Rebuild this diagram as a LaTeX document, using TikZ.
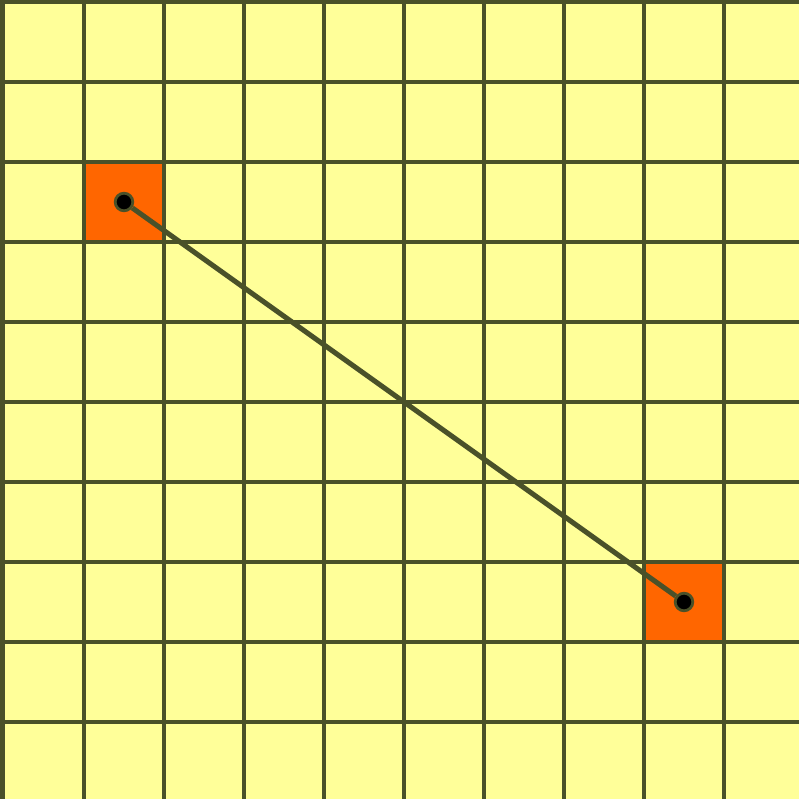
\documentclass[tikz,border=0pt]{standalone}
\usepackage{tikz}
\usetikzlibrary{arrows.meta,calc,positioning}
\definecolor{oliva}{HTML}{4A5129}
\definecolor{fondo}{HTML}{FFFF99}
\definecolor{naranja}{HTML}{FF6600}
\tikzset{
  rejilla/.style={oliva,line width=1.1pt},
  celda/.style={fill=naranja},
  punto/.style={circle,fill=black,draw=oliva,line width=1pt,inner sep=0pt,minimum size=0.22cm},
  enlace/.style={oliva,line width=1.8pt}
}
\begin{document}
\begin{tikzpicture}
\useasboundingbox (-0.05,0.0375) rectangle (9.9375,10.025);
\fill[fondo] (-0.05,0.0375) rectangle (9.9375,10.025);
\begin{scope}
\clip (-0.05,0.0375) rectangle (9.9375,10.025);
\fill[celda] (1,7) rectangle (2,8);
\fill[celda] (8,2) rectangle (9,3);
\foreach \k in {1,...,9}{
\draw[rejilla] (\k,-0.5)--(\k,10.5);
\draw[rejilla] (-0.5,\k)--(10.5,\k);}
\draw[oliva,line width=1.4pt] (-0.5,10)--(10.5,10);
\draw[oliva,line width=2.2pt] (-0.02,-0.5)--(-0.02,10.5);
\end{scope}
\node[punto] (inicio) at (1.5,7.5) {};
\node[punto] (fin) at (8.5,2.5) {};
\draw[enlace] (inicio)--(fin);
\end{tikzpicture}
\end{document}
